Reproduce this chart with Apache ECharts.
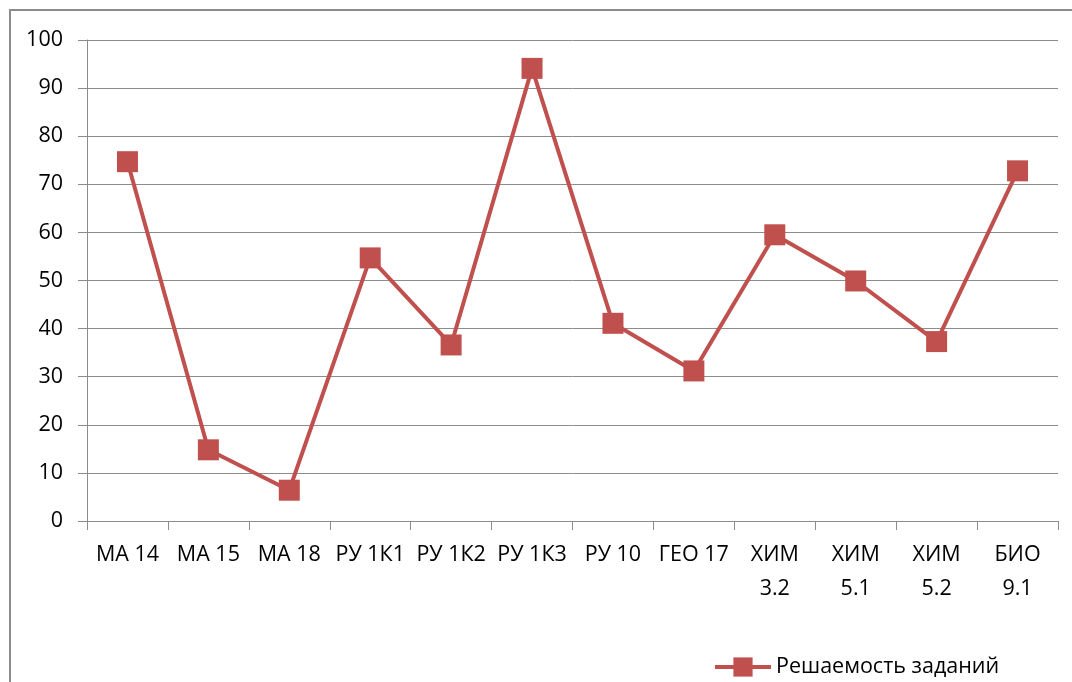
<!DOCTYPE html>
<html><head><meta charset="utf-8">
<script src="https://cdn.jsdelivr.net/npm/echarts@6/dist/echarts.min.js"></script>
<style>html,body{margin:0;padding:0;background:#fff}#c{width:1072px;height:682px;position:relative}
#frame{position:absolute;left:9px;top:9px;width:1080px;height:700px;border:2px solid #8c8c8c;box-sizing:border-box;pointer-events:none}</style>
</head><body><div id="c"></div><div id="frame"></div>
<script>
const categories = ['МА 14','МА 15','МА 18','РУ 1К1','РУ 1К2','РУ 1К3','РУ 10','ГЕО 17','ХИМ\n3.2','ХИМ\n5.1','ХИМ\n5.2','БИО\n9.1'];
const seriesName = 'Решаемость заданий';
const values = [74.7, 14.8, 6.4, 54.7, 36.6, 94.1, 41.1, 31.2, 59.5, 49.9, 37.3, 72.8];
const chart = echarts.init(document.getElementById('c'));
const font = 'Open Sans';
chart.setOption({
  animation:false,
  grid:{left:87,right:14,top:40,bottom:161,containLabel:false},
  legend:{data:[seriesName],left:708,top:651,itemWidth:56,itemHeight:24,itemGap:2,
    lineStyle:{width:4},
    textStyle:{fontFamily:font,fontSize:21.5,color:'#000'}},
  xAxis:{type:'category',data:categories,boundaryGap:true,
    axisLine:{lineStyle:{color:'#8c8c8c',width:1}},
    axisTick:{show:true,length:9,lineStyle:{color:'#8c8c8c'}},
    axisLabel:{fontFamily:font,fontSize:21.5,color:'#000',margin:17,lineHeight:34,interval:0}},
  yAxis:{type:'value',min:0,max:100,interval:10,
    axisLine:{show:true,lineStyle:{color:'#8c8c8c'}},
    axisTick:{show:true,length:9,lineStyle:{color:'#8c8c8c'}},
    splitLine:{lineStyle:{color:'#8c8c8c',width:1}},
    axisLabel:{fontFamily:font,fontSize:21.5,color:'#000',margin:24}},
  series:[{name:seriesName,type:'line',data:values,symbol:'rect',symbolSize:21,
    lineStyle:{color:'#C0504D',width:4},itemStyle:{color:'#C0504D'}}]
});
</script></body></html>
